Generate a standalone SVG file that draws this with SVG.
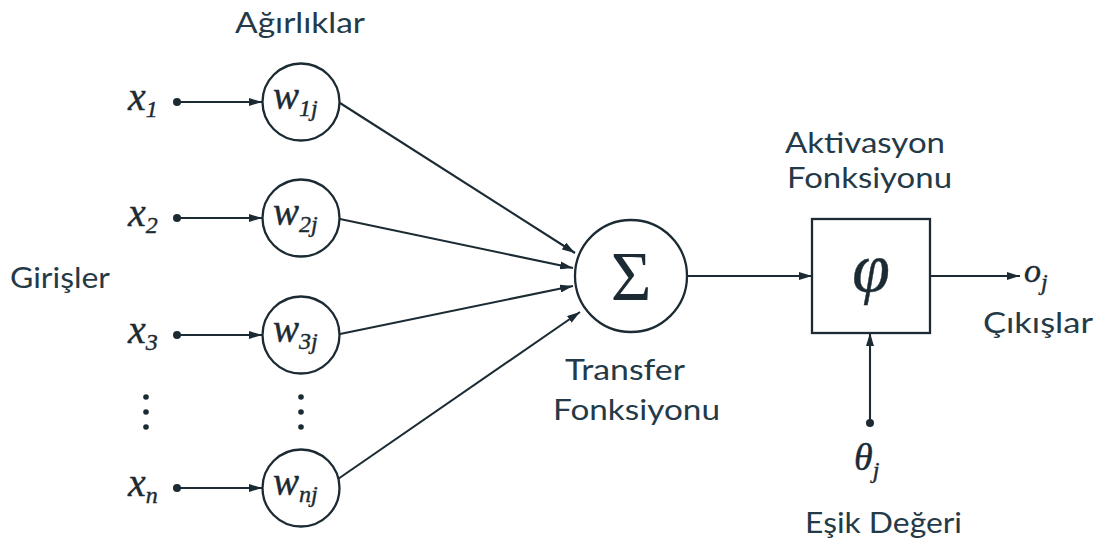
<svg xmlns="http://www.w3.org/2000/svg" width="1102" height="547" viewBox="0 0 1102 547">
  <style>
    .lbl { font-family: Lato, "Open Sans", "Liberation Sans", sans-serif; font-size: 29px; fill: #243a48; }
    .math { font-family: "Liberation Serif", "DejaVu Serif", serif; font-style: italic; fill: #1c2b33; stroke: #1c2b33; stroke-width: 0.4; }
    .sub { font-size: 24px; }
    .node { fill: #ffffff; stroke: #1c2b33; stroke-width: 2.3; }
    .wire { fill: none; stroke: #1c2b33; stroke-width: 2.1; }
    .dot { fill: #1c2b33; }
  </style>
  <defs>
    <marker id="arrow" viewBox="0 0 13 8" refX="13" refY="4" markerWidth="13" markerHeight="8" markerUnits="userSpaceOnUse" orient="auto">
      <path d="M0,0 L13,4 L0,8 z" fill="#1c2b33"/>
    </marker>
  </defs>
  <rect width="1102" height="547" fill="#ffffff"/>

  <!-- section labels -->
  <text class="lbl" x="235" y="33" textLength="130" lengthAdjust="spacingAndGlyphs">Ağırlıklar</text>
  <text class="lbl" x="10" y="288" textLength="100" lengthAdjust="spacingAndGlyphs">Girişler</text>

  <!-- connectors -->
  <g id="connectors">
    <line class="wire" x1="177" y1="102" x2="262" y2="102" marker-end="url(#arrow)"/>
    <line class="wire" x1="177" y1="218" x2="262" y2="218" marker-end="url(#arrow)"/>
    <line class="wire" x1="177" y1="335" x2="262" y2="335" marker-end="url(#arrow)"/>
    <line class="wire" x1="177" y1="488" x2="262" y2="488" marker-end="url(#arrow)"/>
    <line class="wire" x1="340" y1="103" x2="575" y2="253" marker-end="url(#arrow)"/>
    <line class="wire" x1="340" y1="219" x2="573" y2="268" marker-end="url(#arrow)"/>
    <line class="wire" x1="340" y1="334" x2="573" y2="286" marker-end="url(#arrow)"/>
    <line class="wire" x1="338" y1="479" x2="580" y2="312" marker-end="url(#arrow)"/>
    <line class="wire" x1="687" y1="276" x2="812" y2="276" marker-end="url(#arrow)"/>
    <line class="wire" x1="930" y1="276" x2="1020" y2="276" marker-end="url(#arrow)"/>
    <line class="wire" x1="870" y1="423" x2="870" y2="333" marker-end="url(#arrow)"/>
  </g>

  <!-- inputs -->
  <g id="input-1">
    <circle class="dot" cx="177" cy="102" r="4"/>
    <text class="math" x="128" y="110" font-size="40">x<tspan class="sub" dy="7">1</tspan></text>
  </g>
  <g id="input-2">
    <circle class="dot" cx="177" cy="218" r="4"/>
    <text class="math" x="128" y="226" font-size="40">x<tspan class="sub" dy="7">2</tspan></text>
  </g>
  <g id="input-3">
    <circle class="dot" cx="177" cy="335" r="4"/>
    <text class="math" x="128" y="343" font-size="40">x<tspan class="sub" dy="7">3</tspan></text>
  </g>
  <g id="input-ellipsis">
    <circle class="dot" cx="146" cy="397" r="2.8"/>
    <circle class="dot" cx="146" cy="412" r="2.8"/>
    <circle class="dot" cx="146" cy="427" r="2.8"/>
  </g>
  <g id="input-n">
    <circle class="dot" cx="177" cy="488" r="4"/>
    <text class="math" x="128" y="496" font-size="40">x<tspan class="sub" dy="7">n</tspan></text>
  </g>

  <!-- weights -->
  <g id="weight-1">
    <circle class="node" cx="301" cy="102" r="38.5"/>
    <text class="math" x="273" y="109" font-size="39">w<tspan class="sub" dy="7">1j</tspan></text>
  </g>
  <g id="weight-2">
    <circle class="node" cx="301" cy="218" r="38.5"/>
    <text class="math" x="273" y="225" font-size="39">w<tspan class="sub" dy="7">2j</tspan></text>
  </g>
  <g id="weight-3">
    <circle class="node" cx="301" cy="335" r="38.5"/>
    <text class="math" x="273" y="342" font-size="39">w<tspan class="sub" dy="7">3j</tspan></text>
  </g>
  <g id="weight-ellipsis">
    <circle class="dot" cx="301" cy="397" r="2.8"/>
    <circle class="dot" cx="301" cy="412" r="2.8"/>
    <circle class="dot" cx="301" cy="427" r="2.8"/>
  </g>
  <g id="weight-n">
    <circle class="node" cx="301" cy="488" r="38.5"/>
    <text class="math" x="273" y="495" font-size="39">w<tspan class="sub" dy="7">nj</tspan></text>
  </g>

  <!-- transfer (sum) -->
  <g id="transfer">
    <circle class="node" cx="631" cy="276" r="56"/>
    <text x="631" y="300" text-anchor="middle" font-family="'Liberation Serif', 'DejaVu Serif', serif" font-size="70" fill="#1c2b33">Σ</text>
    <text class="lbl" x="565" y="380" textLength="120" lengthAdjust="spacingAndGlyphs">Transfer</text>
    <text class="lbl" x="553" y="420" textLength="167" lengthAdjust="spacingAndGlyphs">Fonksiyonu</text>
  </g>

  <!-- activation -->
  <g id="activation">
    <text class="lbl" x="785" y="153" textLength="160" lengthAdjust="spacingAndGlyphs">Aktivasyon</text>
    <text class="lbl" x="787" y="188" textLength="165" lengthAdjust="spacingAndGlyphs">Fonksiyonu</text>
    <rect class="node" x="812" y="219" width="118" height="114"/>
    <text class="math" x="871" y="291" text-anchor="middle" font-size="68">φ</text>
  </g>

  <!-- output -->
  <g id="output">
    <text class="math" x="1024" y="282" font-size="34">o<tspan class="sub" font-size="22" dy="8">j</tspan></text>
    <text class="lbl" x="983" y="333" textLength="110" lengthAdjust="spacingAndGlyphs">Çıkışlar</text>
  </g>

  <!-- threshold -->
  <g id="threshold">
    <circle class="dot" cx="870" cy="423" r="4"/>
    <text class="math" x="854" y="470" font-size="38">θ<tspan class="sub" dy="8">j</tspan></text>
    <text class="lbl" x="805" y="533" textLength="157" lengthAdjust="spacingAndGlyphs">Eşik Değeri</text>
  </g>
</svg>
